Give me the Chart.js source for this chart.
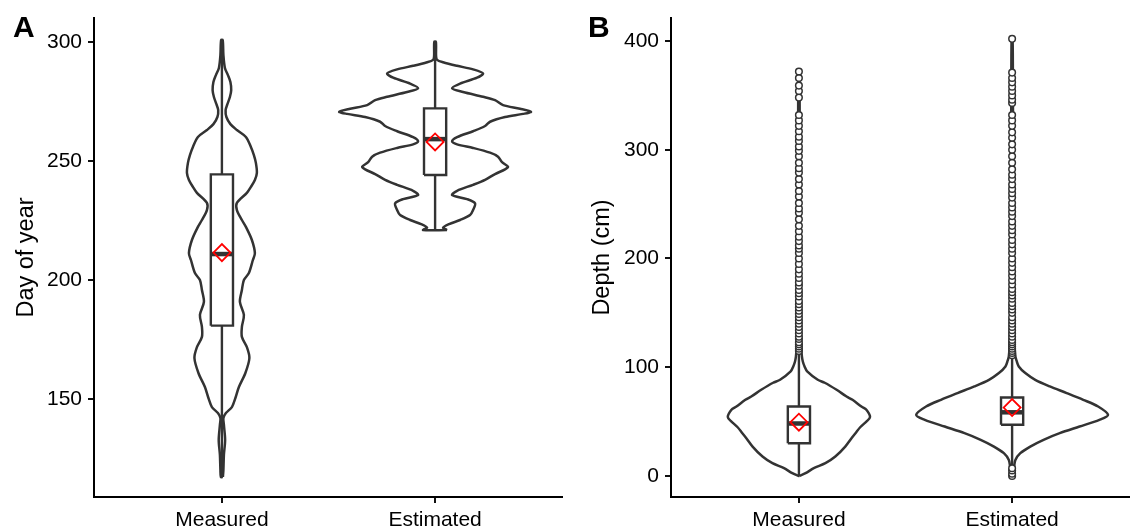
<!DOCTYPE html>
<html><head><meta charset="utf-8">
<script src="https://cdn.jsdelivr.net/npm/chart.js@4.4.1/dist/chart.umd.min.js"></script>
<style>
html,body{margin:0;padding:0;background:#fff;}
#wrap{position:relative;width:1130px;height:530px;overflow:hidden;background:#fff;}
.panel{position:absolute;top:0;height:530px;}
</style></head><body>
<div id="wrap">
<div class="panel" style="left:0;width:563px"><canvas id="ca" width="563" height="530"></canvas></div>
<div class="panel" style="left:577px;width:553px"><canvas id="cb" width="553" height="530"></canvas></div>
</div>
<script>
// ---------- DATA ----------
const categories = ['Measured', 'Estimated'];
const dayTicks = [150, 200, 250, 300];
const depthTicks = [0, 100, 200, 300, 400];

// Panel A: day of year violin density profiles (value, relative density)
const dayMeasuredY = [117.2,120.2,126.5,132.8,139.1,142.0,144.1,146.6,150.4,155.0,160.9,167.2,171.8,176.1,180.3,185.3,190.8,195.8,200.0,202.9,208.4,211.3,216.8,222.3,225.2,229.4,232.4,236.6,239.1,242.0,245.0,249.2,252.5,255.9,260.1,263.0,265.5,268.5,271.4,273.9,276.9,279.8,283.2,286.1,289.1,294.5,300.8];
const dayMeasuredDens = [1.0,1.5,2.0,3.2,2.0,1.5,4,10,13.5,17,23.5,27.5,25,20,20,22,18,20,22,27,31,33,30,24,20,15,15,25,29,33,35,34,32,29,24,15,8.5,4.5,3.7,5.5,8,9.3,8.5,6,3,1.5,0.8];
const dayEstimatedY = [221.0,222.0,223.5,225.2,227.3,229.4,232.2,234.0,235.7,237.5,240.0,242.1,244.5,246.5,247.6,249.5,251.8,253.5,255.5,257.0,258.3,260.0,262.5,264.7,266.5,268.5,269.8,270.7,272.0,273.5,275.6,277.0,279.0,280.5,282.5,285.0,286.8,288.5,290.0,291.5,292.5,294.0,300.1];
const dayEstimatedDens = [12,8,14,25,35,38,40,32,17,22,38,50,60,70,73,67,63,55,38,22,17,22,38,50,55,70,88,96,85,68,60,48,28,17,25,42,48,38,22,8,2,1,0.8];

// Panel A box statistics [Measured, Estimated]
const dayWhiskerLow = [117.2, 221.0];
const dayQ1 = [180.8, 244.1];
const dayMedian = [210.9, 259.2];
const dayQ3 = [244.4, 272.1];
const dayWhiskerHigh = [300.8, 300.1];
const dayMean = [211.5, 258.0];

// Panel B: depth violin density profiles
const depthMeasuredY = [0,2.5,7.1,11.7,17.8,27.0,34.7,39.3,45.0,50.0,54.1,60.8,63.8,70.0,73.0,79.2,85.7,88.4,96.1,100.7,105,109.9,120,150,200,250,300,372.4];
const depthMeasuredDens = [0.5,6.7,15,26.7,36.7,46.7,53,57,62,68,71.7,68,63,54,48,38,26,19,8.3,5.7,4,3,2.2,1.5,1.2,1,0.8,0.5];
const depthEstimatedY = [0,5.5,8.6,14.7,20.9,27.0,33.2,39.3,45.4,51.6,56.2,63.8,70.0,76.2,82.3,88.4,94.6,100.7,106,110,120,150,200,250,300,350,402.2];
const depthEstimatedDens = [0.5,1,2,3.3,8.3,18.3,31.7,48,68,88,96.7,86.7,71.7,55,38,23.3,13.3,6.7,4.5,3.3,2.5,1.8,1.3,1.1,1,0.8,0.5];

// Panel B box statistics [Measured, Estimated]
const depthWhiskerLow = [0, 10];
const depthQ1 = [30.1, 47.0];
const depthMedian = [48.2, 58.5];
const depthQ3 = [63.8, 72.1];
const depthWhiskerHigh = [113.5, 109.5];
const depthMean = [49.4, 62.9];

// Panel B outliers
const depthOutliersMeasured = [115,117,119,121,123,126,128,131,134,137,140,143,146,149,152,155,158,161,165,168,171,175,178,182,186,190,195,200,205,209,212,216,220,225,230,236,242,246,251,257,262,268,273,279,283,288,294,299,303,308,312,317,322,327,332,348,354,359,366,372];
const depthOutliersEstimated = [0,2,5,7,111,113,115,117,119,121,123,125,128,131,134,137,140,143,146,150,153,156,159,163,166,169,172,176,180,184,188,192,196,200,205,209,213,217,222,226,230,234,239,243,247,251,256,260,264,268,273,277,282,288,294,300,305,311,316,322,327,332,343,346,350,354,358,362,366,371,402];

// ---------- STYLE ----------
const FONT = '"Liberation Sans", Arial, Helvetica, sans-serif';
const INK = '#333333';
const VIOLIN_MAX_HALF = 0.45;
const BOX_HALF = 0.052;

Chart.defaults.font.family = FONT;

function violinPoints(c, ys, ds, k) {
  const pts = [];
  for (let i = 0; i < ys.length; i++) pts.push({x: c + ds[i] * k, y: ys[i]});
  for (let i = ys.length - 1; i >= 0; i--) pts.push({x: c - ds[i] * k, y: ys[i]});
  pts.push({x: pts[0].x, y: pts[0].y});
  return pts;
}

function lineDs(data, width, order, extra) {
  return Object.assign({type: 'scatter', data, showLine: true, borderColor: INK, borderWidth: width,
    pointRadius: 0, pointHoverRadius: 0, fill: false, tension: 0, order}, extra || {});
}

function buildDatasets(violins, stats, outliers) {
  const maxD = Math.max(...violins.map(v => Math.max(...v.dens)));
  const k = VIOLIN_MAX_HALF / maxD;
  const ds = [];
  violins.forEach((v, i) => {
    const c = i + 1;
    ds.push(lineDs(violinPoints(c, v.y, v.dens, k), 2.5, 10, {tension: 0.3, borderJoinStyle: 'round'}));
    ds.push(lineDs([{x: c, y: stats.lo[i]}, {x: c, y: stats.q1[i]}], 2.4, 9));
    ds.push(lineDs([{x: c, y: stats.q3[i]}, {x: c, y: stats.hi[i]}], 2.4, 9));
    ds.push(lineDs([
      {x: c - BOX_HALF, y: stats.q1[i]}, {x: c + BOX_HALF, y: stats.q1[i]},
      {x: c + BOX_HALF, y: stats.q3[i]}, {x: c - BOX_HALF, y: stats.q3[i]},
      {x: c - BOX_HALF, y: stats.q1[i]}], 2.4, 8, {fill: 'shape', backgroundColor: '#ffffff', borderJoinStyle: 'miter'}));
    ds.push(lineDs([{x: c - BOX_HALF, y: stats.med[i]}, {x: c + BOX_HALF, y: stats.med[i]}], 4.5, 7, {borderCapStyle: 'butt'}));
    if (outliers && outliers[i]) {
      ds.push({type: 'scatter', data: outliers[i].map(v => ({x: c, y: v})), showLine: false,
        pointRadius: 3.3, pointHoverRadius: 3.3, pointBorderWidth: 1.5, pointBorderColor: INK, pointBackgroundColor: '#ffffff', order: 6});
    }
    ds.push({type: 'scatter', data: [{x: c, y: stats.mean[i]}], showLine: false, pointStyle: 'rectRot',
      pointRadius: 8.5, pointHoverRadius: 8.5, pointBorderWidth: 1.8, pointBorderColor: '#ff0000', pointBackgroundColor: 'rgba(0,0,0,0)', order: 1});
  });
  return ds;
}

function textPlugin(letter, letterX, title, titleX) {
  return {
    id: 'panelText' + letter,
    afterDraw(chart) {
      const ctx = chart.ctx;
      ctx.save();
      ctx.fillStyle = '#000';
      ctx.textBaseline = 'alphabetic';
      ctx.textAlign = 'left';
      ctx.font = 'bold 30px ' + FONT;
      ctx.fillText(letter, letterX, 37);
      ctx.font = '23.5px ' + FONT;
      ctx.translate(titleX, (chart.chartArea.top + chart.chartArea.bottom) / 2);
      ctx.rotate(-Math.PI / 2);
      ctx.textAlign = 'center';
      ctx.fillText(title, 0, 0);
      ctx.restore();
    }
  };
}

function makeChart(id, datasets, xMax, yMin, yMax, yTicks, plugin) {
  return new Chart(document.getElementById(id), {
    data: {datasets},
    options: {
      responsive: false, animation: false, devicePixelRatio: 1,
      layout: {autoPadding: false, padding: {top: 18, right: 0, left: 0, bottom: 0}},
      plugins: {legend: {display: false}, tooltip: {enabled: false}},
      events: [],
      scales: {
        x: {
          type: 'linear', min: 0.4, max: xMax,
          afterBuildTicks: s => { s.ticks = categories.map((c, i) => ({value: i + 1})); },
          afterFit: s => { s.height = 33; s.paddingLeft = 0; s.paddingRight = 0; },
          ticks: {callback: v => categories[Math.round(v) - 1] || '', font: {size: 21}, color: '#000', padding: 5, maxRotation: 0, autoSkip: false},
          grid: {drawOnChartArea: false, drawTicks: true, tickLength: 6, color: '#111', lineWidth: 2},
          border: {display: true, color: '#000', width: 2}
        },
        y: {
          type: 'linear', min: yMin, max: yMax,
          afterBuildTicks: s => { s.ticks = yTicks.map(v => ({value: v})); },
          afterFit: s => { s.width = 94; s.paddingTop = 0; s.paddingBottom = 0; },
          ticks: {font: {size: 21}, color: '#000', padding: 6, autoSkip: false},
          grid: {drawOnChartArea: false, drawTicks: true, tickLength: 6, color: '#111', lineWidth: 2},
          border: {display: true, color: '#000', width: 2}
        }
      }
    },
    plugins: [plugin]
  });
}

const dsA = buildDatasets(
  [{y: dayMeasuredY, dens: dayMeasuredDens}, {y: dayEstimatedY, dens: dayEstimatedDens}],
  {lo: dayWhiskerLow, q1: dayQ1, med: dayMedian, q3: dayQ3, hi: dayWhiskerHigh, mean: dayMean},
  null);
makeChart('ca', dsA, 2.6, 108.8, 310.1, dayTicks, textPlugin('A', 13, 'Day of year', 33));

const dsB = buildDatasets(
  [{y: depthMeasuredY, dens: depthMeasuredDens}, {y: depthEstimatedY, dens: depthEstimatedDens}],
  {lo: depthWhiskerLow, q1: depthQ1, med: depthMedian, q3: depthQ3, hi: depthWhiskerHigh, mean: depthMean},
  [depthOutliersMeasured, depthOutliersEstimated]);
makeChart('cb', dsB, 2.553, -19.4, 421.2, depthTicks, textPlugin('B', 11, 'Depth (cm)', 32));
</script>
</body></html>
